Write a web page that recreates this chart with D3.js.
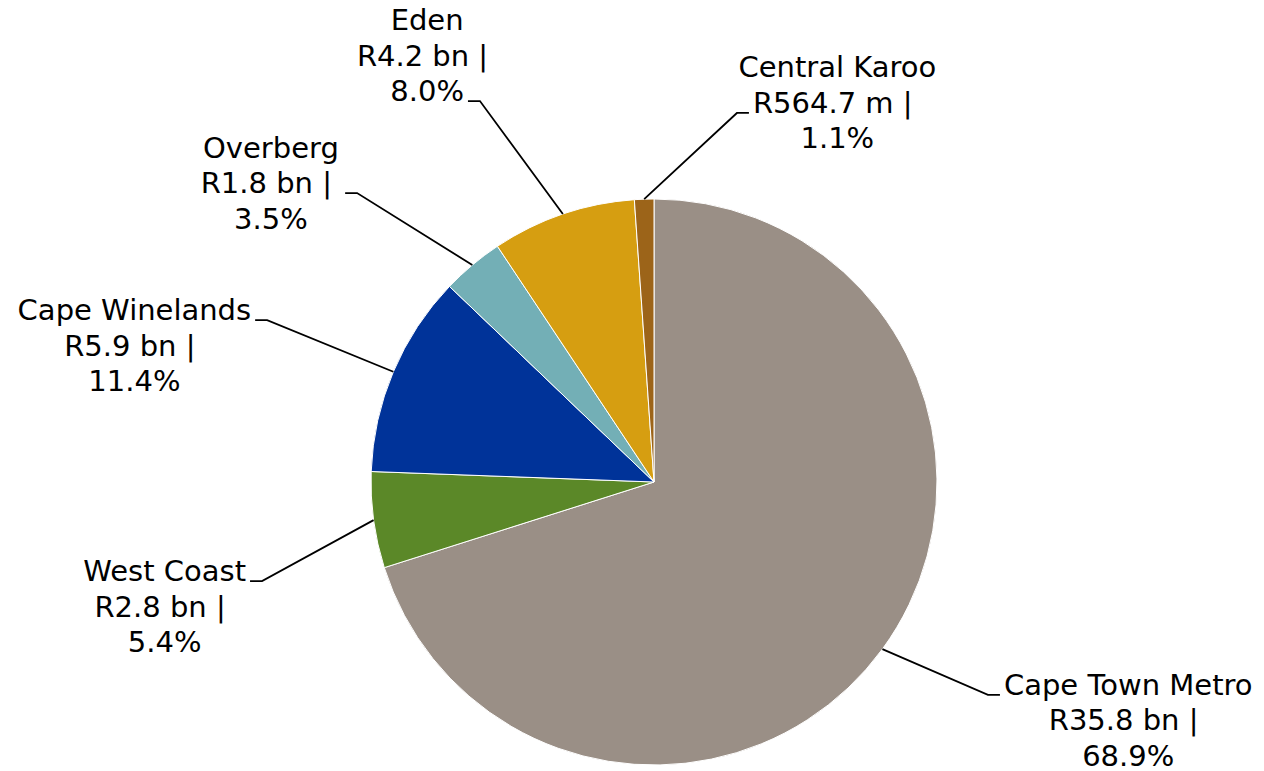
<!DOCTYPE html>
<html>
<head>
<meta charset="utf-8">
<script src="https://cdn.jsdelivr.net/npm/d3@7"></script>
<style>
  html, body { margin: 0; padding: 0; background: #fff; }
  svg { display: block; }
  .slice { stroke: #fff; stroke-width: 1; }
  .leader { fill: none; stroke: #000; stroke-width: 1.8; }
  .label { font-family: "DejaVu Sans", sans-serif; font-size: 29px; fill: #000; }
</style>
</head>
<body>
<svg id="chart"></svg>
<script>
// Regional share, clockwise from 12 o'clock
const regions = ["Cape Town Metro", "West Coast", "Cape Winelands", "Overberg", "Eden", "Central Karoo"];
const amounts = [35.8, 2.8, 5.9, 1.8, 4.2, 0.5647]; // R bn
const amountLabels = ["R35.8 bn", "R2.8 bn", "R5.9 bn", "R1.8 bn", "R4.2 bn", "R564.7 m"];
const shareLabels = ["68.9%", "5.4%", "11.4%", "3.5%", "8.0%", "1.1%"];
const colors = ["#9a8f86", "#5b8828", "#003399", "#73afb6", "#d69e11", "#9c6419"];

// Label layout: elbow of the leader line in pie radii from centre,
// which side the text sits on and which text line the leader meets
const labelPlacement = [
    { ex: 1.180, ey: 0.752, side: "right", line: 0 },
    { ex: -1.385, ey: 0.350, side: "left", line: 0 },
    { ex: -1.367, ey: -0.572, side: "left", line: 0 },
    { ex: -1.049, ey: -1.021, side: "left", line: 1 },
    { ex: -0.615, ey: -1.346, side: "left", line: 2 },
    { ex: 0.293, ey: -1.304, side: "right", line: 1 }
];

const width = 1264;
const height = 771;
const cx = 654;
const cy = 482;
const radius = 283;
const lineHeight = 35.5;
const hookLength = 12; // horizontal bit of the leader
const hookGap = 4;

const svg = d3.select("#chart").attr("width", width).attr("height", height);
const g = svg.append("g").attr("transform", `translate(${cx},${cy})`);

const data = regions.map((name, i) => ({
    name,
    value: amounts[i],
    lines: [name, amountLabels[i] + " |\u00A0", shareLabels[i]],
    color: colors[i],
    place: labelPlacement[i]
}));

const pie = d3.pie().sort(null).value(d => d.value);
const arc = d3.arc().innerRadius(0).outerRadius(radius);
const arcs = pie(data);

// Slices
g.selectAll(".slice")
    .data(arcs)
    .enter()
    .append("path")
    .attr("class", "slice")
    .attr("d", arc)
    .attr("fill", d => d.data.color);

// Measure text widths so lines can be placed against the leader hook
const measure = g.append("text").attr("class", "label");
function textWidth(str) {
    measure.text(str);
    return measure.node().getComputedTextLength();
}

arcs.forEach(d => {
    const p = d.data.place;
    const mid = (d.startAngle + d.endAngle) / 2;
    const start = [Math.sin(mid) * radius, -Math.cos(mid) * radius];
    const elbow = [p.ex * radius, p.ey * radius];
    const dir = p.side === "right" ? 1 : -1;
    const hookEnd = [elbow[0] + dir * hookLength, elbow[1]];

    g.append("path")
        .attr("class", "leader")
        .attr("d", d3.line()([start, elbow, hookEnd]));

    const w = textWidth(d.data.lines[p.line]);
    const edge = hookEnd[0] + dir * hookGap;
    const textX = edge + dir * w / 2;
    const firstBaseline = elbow[1] - p.line * lineHeight;

    const text = g.append("text")
        .attr("class", "label")
        .attr("text-anchor", "middle");

    d.data.lines.forEach((line, i) => {
        text.append("tspan")
            .attr("x", textX)
            .attr("y", firstBaseline + i * lineHeight)
            .text(line);
    });
});

measure.remove();
</script>
</body>
</html>
